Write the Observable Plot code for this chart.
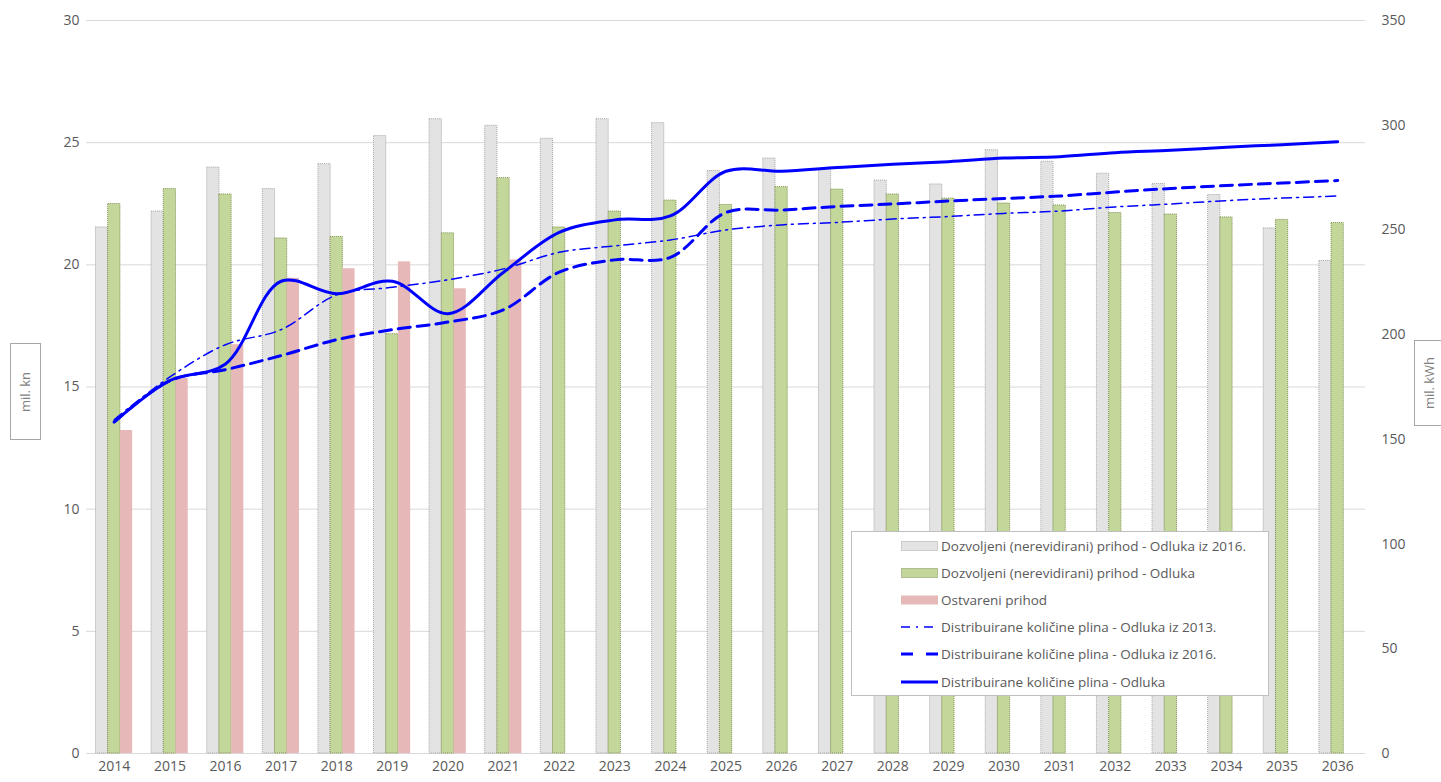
<!DOCTYPE html>
<html>
<head>
<meta charset="utf-8">
<script src="https://cdn.jsdelivr.net/npm/d3@7"></script>
<script src="https://cdn.jsdelivr.net/npm/@observablehq/plot@0.6"></script>
<style>
  html, body { margin: 0; padding: 0; background: #fff; }
  #wrap { position: relative; width: 1441px; height: 782px; font-family: "Open Sans", sans-serif; color: #595959; }
  .axlabel { position: absolute; border: 1px solid #a6a6a6; background: #fff; display: flex; align-items: center; justify-content: center; }
  .axlabel span { transform: rotate(-90deg); white-space: nowrap; font-size: 13px; color: #7f7f7f; }
  #legend { position: absolute; left: 851px; top: 531px; width: 416px; height: 163px; border: 1px solid #bfbfbf; background: #fff; }
  .row { position: absolute; left: 0; height: 20px; display: flex; align-items: center; }
  .row svg { margin-left: 49px; margin-right: 3px; }
  .row span { font-size: 13.5px; color: #595959; white-space: nowrap; }
</style>
</head>
<body>
<div id="wrap"></div>
<script>
const years = ["2014","2015","2016","2017","2018","2019","2020","2021","2022","2023","2024","2025","2026","2027","2028","2029","2030","2031","2032","2033","2034","2035","2036"];
// mil. kn
const prihod2016 = [21.53,22.18,23.98,23.1,24.12,25.27,25.96,25.69,25.16,25.96,25.8,23.84,24.35,23.9,23.45,23.29,24.69,24.22,23.73,23.31,22.86,21.49,20.16];
const prihodOdluka = [22.49,23.1,22.88,21.08,21.14,17.16,21.29,23.55,21.53,22.18,22.63,22.45,23.18,23.08,22.88,22.71,22.51,22.43,22.12,22.06,21.94,21.84,21.71];
const ostvareni = [13.22,15.35,16.73,19.45,19.84,20.12,19.02,20.2];
// mil. kWh
const kolicine2013 = [159.5,179.8,195.2,202.4,219,222.6,226.2,231.4,239.3,242.4,245.2,250,252.4,253.6,255.2,256.4,257.9,259,261,262.4,264,265.2,266.2];
const kolicine2016 = [158.3,178,183.3,190,197.6,202.4,206,211.9,229.8,235.7,236.9,258.3,259.5,261.2,262.4,263.8,265,266.2,268.1,269.8,271.2,272.4,273.6];
const kolicineOdluka = [158.3,178.1,186,225.5,219.5,225.5,210,229.8,248.8,254.8,256.7,278,278,279.8,281.4,282.6,284.3,285,286.9,288,289.5,290.7,292.1];
const leftTicks = [0,5,10,15,20,25,30];
const rightTicks = [0,50,100,150,200,250,300,350];

const names = {
  g: "Dozvoljeni (nerevidirani) prihod - Odluka iz 2016.",
  v: "Dozvoljeni (nerevidirani) prihod - Odluka",
  o: "Ostvareni prihod",
  l13: "Distribuirane količine plina - Odluka iz 2013.",
  l16: "Distribuirane količine plina - Odluka iz 2016.",
  lo: "Distribuirane količine plina - Odluka"
};

const k = 30 / 350; // right axis -> left axis units
const bars = (arr) => arr.map((v, i) => ({year: years[i], v}));
const lineData = (arr) => arr.map((v, i) => ({year: years[i], v: v * k}));

const BW = 12.2;
const chart = Plot.plot({
  width: 1441,
  height: 782,
  marginLeft: 86,
  marginRight: 76,
  marginTop: 20,
  marginBottom: 29,
  style: {fontFamily: "Open Sans, sans-serif", fontSize: "14px", color: "#595959", background: "transparent"},
  x: {type: "band", domain: years, paddingInner: 0.78, paddingOuter: 0.39, round: false, label: null},
  y: {domain: [0, 30], label: null},
  marks: [
    Plot.gridY(leftTicks, {stroke: "#d9d9d9", strokeOpacity: 1, strokeWidth: 1}),
    Plot.axisY(leftTicks, {anchor: "left", tickSize: 0, tickPadding: 7, label: null, fontSize: 14}),
    Plot.axisY(rightTicks.map(t => t * k), {anchor: "right", tickSize: 0, tickPadding: 16, label: null, fontSize: 14, tickFormat: d => String(Math.round(d / k)), textAnchor: "start"}),
    Plot.axisX(years, {tickSize: 0, tickPadding: 8, label: null, fontSize: 14}),
    Plot.barY(bars(prihod2016), {x: "year", y: "v", dx: -BW, fill: "#e3e3e3", stroke: "#a6a6a6", strokeDasharray: "1,1", strokeWidth: 1}),
    Plot.barY(bars(prihodOdluka), {x: "year", y: "v", fill: "#c4d79b", stroke: "#7f8f4f", strokeDasharray: "1,1", strokeWidth: 1}),
    Plot.barY(bars(ostvareni), {x: "year", y: "v", dx: BW, fill: "#e6b8b7"}),
    Plot.line(lineData(kolicine2013), {x: "year", y: "v", stroke: "#0000ff", strokeWidth: 1.5, strokeDasharray: "10,5,2,5", curve: "catmull-rom"}),
    Plot.line(lineData(kolicine2016), {x: "year", y: "v", stroke: "#0000ff", strokeWidth: 3, strokeDasharray: "12,7", curve: "catmull-rom"}),
    Plot.line(lineData(kolicineOdluka), {x: "year", y: "v", stroke: "#0000ff", strokeWidth: 3, curve: "catmull-rom"})
  ]
});

const wrap = document.getElementById("wrap");
chart.style.position = "absolute";
chart.style.left = "0";
chart.style.top = "0";
wrap.appendChild(chart);

function addAxisLabel(text, left, top, w, h) {
  const d = document.createElement("div");
  d.className = "axlabel";
  Object.assign(d.style, {left: left + "px", top: top + "px", width: w + "px", height: h + "px"});
  const s = document.createElement("span");
  s.textContent = text;
  d.appendChild(s);
  wrap.appendChild(d);
}
addAxisLabel("mil. kn", 10, 343, 29, 95);
addAxisLabel("mil. kWh", 1414, 340, 29, 84);

const legend = document.createElement("div");
legend.id = "legend";
const swatches = [
  {key: "g", svg: '<rect x="0.5" y="5.5" width="36" height="9" fill="#e3e3e3" stroke="#a6a6a6" stroke-dasharray="1,1"/>'},
  {key: "v", svg: '<rect x="0.5" y="5.5" width="36" height="9" fill="#c4d79b" stroke="#7f8f4f" stroke-dasharray="1,1"/>'},
  {key: "o", svg: '<rect x="0" y="5.5" width="37" height="9" fill="#e6b8b7"/>'},
  {key: "l13", svg: '<line x1="0" y1="10" x2="37" y2="10" stroke="#0000ff" stroke-width="1.5" stroke-dasharray="9,6,2,6"/>'},
  {key: "l16", svg: '<line x1="0" y1="10" x2="37" y2="10" stroke="#0000ff" stroke-width="3" stroke-dasharray="12,13"/>'},
  {key: "lo", svg: '<line x1="0" y1="10" x2="37" y2="10" stroke="#0000ff" stroke-width="3"/>'}
];
const rowCenters = [14, 41, 68, 95, 122, 150];
swatches.forEach((s, i) => {
  const r = document.createElement("div");
  r.className = "row";
  r.style.top = (rowCenters[i] - 10) + "px";
  r.innerHTML = '<svg width="37" height="20">' + s.svg + '</svg><span></span>';
  r.querySelector("span").textContent = names[s.key];
  legend.appendChild(r);
});
wrap.appendChild(legend);
</script>
</body>
</html>
